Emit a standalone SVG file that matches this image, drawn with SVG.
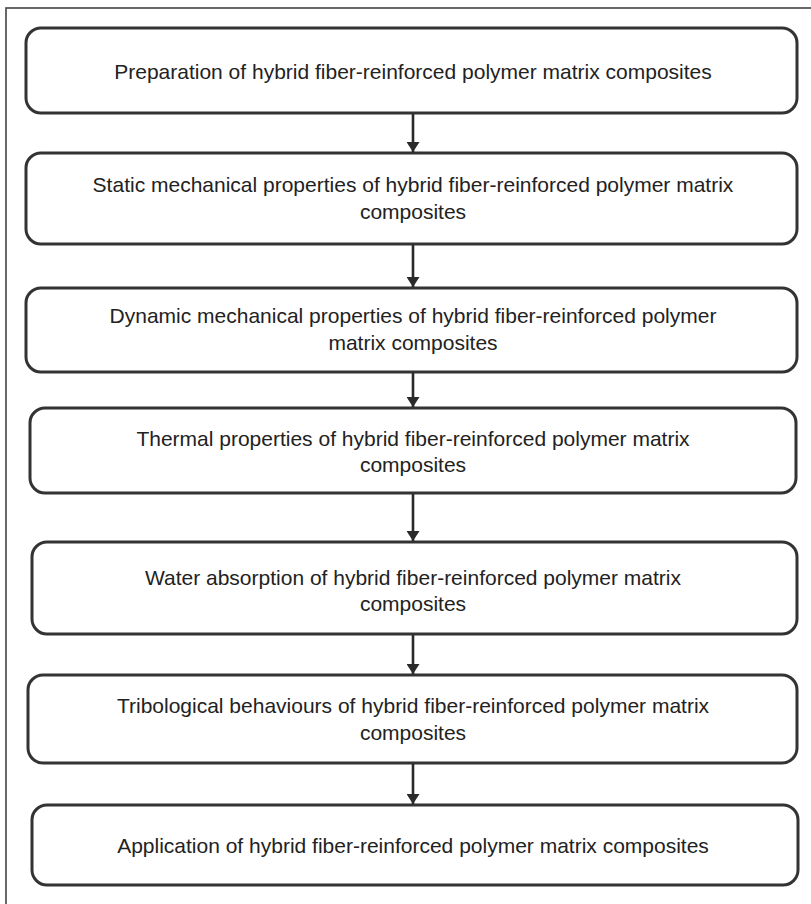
<svg xmlns="http://www.w3.org/2000/svg" width="811" height="904" viewBox="0 0 811 904">
<style>
.frame{fill:none;stroke:#444;stroke-width:1.6}
.box{fill:#fff;stroke:#333;stroke-width:3}
.t{font-family:"Liberation Sans",Arial,sans-serif;font-size:21px;fill:#222;text-anchor:middle}
.c{stroke:#2a2a2a;stroke-width:2.6;fill:none}
</style>
<defs>
<marker id="ah" viewBox="0 0 10 13" refX="10" refY="6.5" markerWidth="10" markerHeight="13" markerUnits="userSpaceOnUse" orient="auto">
<path d="M0,0 L10,6.5 L0,13 Z" fill="#2a2a2a"/>
</marker>
</defs>
<rect width="811" height="904" fill="#fff"/>
<rect class="frame" x="6" y="8" width="830" height="930"/>
<g id="n1">
<rect class="box" x="26" y="28" width="771" height="85" rx="15"/>
<text class="t" x="413" y="79">Preparation of hybrid fiber-reinforced polymer matrix composites</text>
</g>
<g id="n2">
<rect class="box" x="26" y="153" width="771" height="91" rx="15"/>
<text class="t" x="413" y="192">Static mechanical properties of hybrid fiber-reinforced polymer matrix</text>
<text class="t" x="413" y="219">composites</text>
</g>
<g id="n3">
<rect class="box" x="26" y="288" width="771" height="84" rx="15"/>
<text class="t" x="413" y="323">Dynamic mechanical properties of hybrid fiber-reinforced polymer</text>
<text class="t" x="413" y="350">matrix composites</text>
</g>
<g id="n4">
<rect class="box" x="30" y="408" width="766" height="85" rx="15"/>
<text class="t" x="413" y="446">Thermal properties of hybrid fiber-reinforced polymer matrix</text>
<text class="t" x="413" y="472">composites</text>
</g>
<g id="n5">
<rect class="box" x="32" y="542" width="765" height="92" rx="15"/>
<text class="t" x="413" y="585">Water absorption of hybrid fiber-reinforced polymer matrix</text>
<text class="t" x="413" y="611">composites</text>
</g>
<g id="n6">
<rect class="box" x="28" y="675" width="769" height="88" rx="15"/>
<text class="t" x="413" y="713">Tribological behaviours of hybrid fiber-reinforced polymer matrix</text>
<text class="t" x="413" y="740">composites</text>
</g>
<g id="n7">
<rect class="box" x="32" y="805" width="766" height="80" rx="15"/>
<text class="t" x="413" y="853">Application of hybrid fiber-reinforced polymer matrix composites</text>
</g>
<g id="connectors">
<line class="c" x1="413" y1="114" x2="413" y2="152" marker-end="url(#ah)"/>
<line class="c" x1="413" y1="245" x2="413" y2="287" marker-end="url(#ah)"/>
<line class="c" x1="413" y1="373" x2="413" y2="407" marker-end="url(#ah)"/>
<line class="c" x1="413" y1="494" x2="413" y2="541" marker-end="url(#ah)"/>
<line class="c" x1="413" y1="635" x2="413" y2="674" marker-end="url(#ah)"/>
<line class="c" x1="413" y1="764" x2="413" y2="804" marker-end="url(#ah)"/>
</g>
</svg>
